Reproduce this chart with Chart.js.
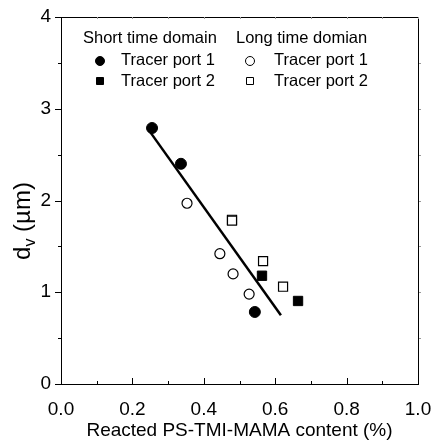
<!DOCTYPE html>
<html>
<head>
<meta charset="utf-8">
<script src="https://cdn.jsdelivr.net/npm/chart.js@4.4.1/dist/chart.umd.min.js"></script>
<style>
  body { margin: 0; background: #fff; }
  #wrap { width: 432px; height: 444px; position: relative; }
</style>
</head>
<body>
<div id="wrap"><canvas id="dvChart"></canvas></div>
<script>
const FONT = "'Liberation Sans', Arial, sans-serif";

// data
const shortPort1X = [0.255, 0.336, 0.543];
const shortPort1Y = [2.79, 2.40, 0.785];
const shortPort2X = [0.563, 0.664];
const shortPort2Y = [1.18, 0.905];
const longPort1X = [0.353, 0.445, 0.482, 0.527];
const longPort1Y = [1.97, 1.42, 1.20, 0.98];
const longPort2X = [0.479, 0.479, 0.566, 0.622];
const longPort2Y = [1.79, 1.78, 1.34, 1.06];
const fitX = [0.251, 0.616];
const fitY = [2.74, 0.75];

const xTicks = [0.0, 0.2, 0.4, 0.6, 0.8, 1.0];
const yTicks = [0, 1, 2, 3, 4];

function pts(xs, ys) {
    return xs.map((x, i) => ({ x: x, y: ys[i] }));
}

function drawMarker(ctx, kind, x, y) {
    ctx.save();
    ctx.lineWidth = 1;
    ctx.strokeStyle = '#000';
    ctx.fillStyle = kind.filled ? '#000' : '#fff';
    ctx.beginPath();
    if (kind.shape === 'circle') {
        ctx.arc(x, y, kind.r, 0, Math.PI * 2);
    } else {
        ctx.rect(x - kind.r, y - kind.r, kind.r * 2, kind.r * 2);
    }
    ctx.fill();
    ctx.stroke();
    ctx.restore();
}

const framePlugin = {
    id: 'frame',
    afterDraw(chart) {
        const ctx = chart.ctx;
        const a = chart.chartArea;
        const xs = chart.scales.x, ys = chart.scales.y;
        ctx.save();
        ctx.strokeStyle = '#000';
        ctx.lineWidth = 1;
        ctx.strokeRect(a.left + 0.5, a.top + 0.5, a.right - a.left, a.bottom - a.top);

        ctx.beginPath();
        // x ticks point inward on the bottom axis
        for (let v = 0; v <= 1.0001; v += 0.1) {
            const px = Math.round(xs.getPixelForValue(v)) + 0.5;
            const major = Math.round(v * 10) % 2 === 0;
            ctx.moveTo(px, a.bottom);
            ctx.lineTo(px, a.bottom - (major ? 6 : 3));
        }
        // y ticks point outward on the left axis
        for (let v = 0; v <= 4.0001; v += 0.5) {
            const py = Math.round(ys.getPixelForValue(v)) + 0.5;
            const major = Math.round(v * 2) % 2 === 0;
            ctx.moveTo(a.left, py);
            ctx.lineTo(a.left - (major ? 6 : 3), py);
        }
        ctx.stroke();

        // faint mirror ticks on the top and right
        ctx.strokeStyle = '#999';
        ctx.beginPath();
        for (let v = 0.1; v < 1; v += 0.1) {
            const px = Math.round(xs.getPixelForValue(v)) + 0.5;
            ctx.moveTo(px, a.top);
            ctx.lineTo(px, a.top + 2);
        }
        for (let v = 0.5; v < 4; v += 0.5) {
            const py = Math.round(ys.getPixelForValue(v)) + 0.5;
            ctx.moveTo(a.right + 1, py);
            ctx.lineTo(a.right + 3, py);
        }
        ctx.stroke();

        // x title
        ctx.fillStyle = '#000';
        ctx.font = '19px ' + FONT;
        ctx.textAlign = 'center';
        ctx.textBaseline = 'middle';
        ctx.fillText('Reacted PS-TMI-MAMA content (%)', (a.left + a.right) / 2, 431);

        // y title with subscript
        ctx.save();
        ctx.translate(22, 221);
        ctx.rotate(-Math.PI / 2);
        ctx.textAlign = 'left';
        ctx.textBaseline = 'alphabetic';
        const big = '24px ' + FONT, small = '16px ' + FONT;
        ctx.font = big;
        const wd = ctx.measureText('d').width;
        const wRest = ctx.measureText(' (\u00b5m)').width;
        ctx.font = small;
        const wv = ctx.measureText('v').width;
        const total = wd + wv + wRest;
        let cx = -total / 2;
        const base = 8;
        ctx.font = big;
        ctx.fillText('d', cx, base);
        cx += wd;
        ctx.font = small;
        ctx.fillText('v', cx, base + 5);
        cx += wv;
        ctx.font = big;
        ctx.fillText(' (\u00b5m)', cx, base);
        ctx.restore();

        // legend
        ctx.font = '16.5px ' + FONT;
        ctx.textAlign = 'left';
        ctx.textBaseline = 'middle';
        ctx.fillText('Short time domain', 83, 38);
        ctx.fillText('Long time domian', 236, 38);
        ctx.fillText('Tracer port 1', 121, 60);
        ctx.fillText('Tracer port 2', 121, 81);
        ctx.fillText('Tracer port 1', 274, 60);
        ctx.fillText('Tracer port 2', 274, 81);
        drawMarker(ctx, { shape: 'circle', filled: true, r: 4.5 }, 100, 61);
        drawMarker(ctx, { shape: 'rect', filled: true, r: 3.5 }, 100, 81);
        drawMarker(ctx, { shape: 'circle', filled: false, r: 4.5 }, 250, 61);
        drawMarker(ctx, { shape: 'rect', filled: false, r: 3.5 }, 250, 81);
        ctx.restore();
    }
};

document.addEventListener('DOMContentLoaded', () => {
    const ctx = document.getElementById('dvChart').getContext('2d');
    new Chart(ctx, {
        type: 'scatter',
        data: {
            datasets: [
                {
                    type: 'line',
                    data: pts(fitX, fitY),
                    borderColor: '#000',
                    borderWidth: 2.5,
                    pointRadius: 0,
                    fill: false
                },
                {
                    data: pts(shortPort1X, shortPort1Y),
                    pointStyle: 'circle',
                    pointRadius: 5.5,
                    backgroundColor: '#000',
                    borderColor: '#000',
                    borderWidth: 1
                },
                {
                    data: pts(shortPort2X, shortPort2Y),
                    pointStyle: 'rect',
                    pointRadius: 6.6,
                    backgroundColor: '#000',
                    borderColor: '#000',
                    borderWidth: 1
                },
                {
                    data: pts(longPort1X, longPort1Y),
                    pointStyle: 'circle',
                    pointRadius: 5,
                    backgroundColor: '#fff',
                    borderColor: '#000',
                    borderWidth: 1.2
                },
                {
                    data: pts(longPort2X, longPort2Y),
                    pointStyle: 'rect',
                    pointRadius: 6.4,
                    backgroundColor: '#fff',
                    borderColor: '#000',
                    borderWidth: 1.2
                }
            ]
        },
        options: {
            responsive: true,
            maintainAspectRatio: false,
            animation: false,
            layout: { padding: { top: 17, right: 14, left: 0, bottom: 0 } },
            plugins: {
                legend: { display: false },
                tooltip: { enabled: false }
            },
            scales: {
                x: {
                    type: 'linear',
                    min: 0,
                    max: 1,
                    grid: { display: false, drawTicks: false },
                    border: { display: false },
                    afterFit: s => {
                        s.height = 60;
                        s.paddingLeft = 0;
                        s.paddingRight = 0;
                    },
                    afterBuildTicks: s => { s.ticks = xTicks.map(v => ({ value: v })); },
                    ticks: {
                        padding: 14,
                        color: '#000',
                        font: { family: FONT, size: 19 },
                        callback: v => v.toFixed(1)
                    }
                },
                y: {
                    type: 'linear',
                    min: 0,
                    max: 4,
                    grid: { display: false, drawTicks: false },
                    border: { display: false },
                    afterFit: s => {
                        s.width = 61;
                        s.paddingTop = 0;
                        s.paddingBottom = 0;
                    },
                    afterBuildTicks: s => { s.ticks = yTicks.map(v => ({ value: v })); },
                    ticks: {
                        padding: 10,
                        color: '#000',
                        font: { family: FONT, size: 19 },
                        callback: v => String(v)
                    }
                }
            }
        },
        plugins: [framePlugin]
    });
});
</script>
</body>
</html>
